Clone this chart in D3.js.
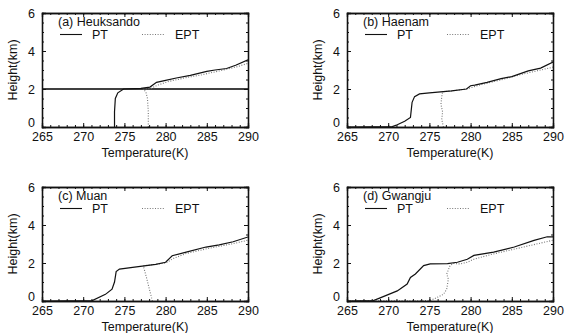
<!DOCTYPE html>
<html lang="en">
<head>
<meta charset="utf-8">
<title>PT / EPT profiles</title>
<script src="https://d3js.org/d3.v7.min.js"></script>
<style>
  body { margin: 0; background: #fff; }
  text { font-family: "Liberation Sans", Arial, sans-serif; fill: #111; }
</style>
</head>
<body>
<script>
// profiles: [temperature (K), height (km)]
var ptHeuksando  = [[273.8,0],[273.8,0.8],[273.9,1.5],[274.2,1.8],[274.9,2.0],[277,2.03],[278.1,2.1],[278.9,2.35],[280,2.45],[281.3,2.58],[283,2.72],[285,2.93],[286,3.0],[287.4,3.08],[288.5,3.25],[290,3.54]];
var eptHeuksando = [[277.9,0],[277.9,0.8],[277.8,1.5],[277.6,1.85],[277.3,2.0],[278.2,2.02],[279,2.2],[280.4,2.4],[282.5,2.6],[284.4,2.75],[286.5,2.95],[288.5,3.15],[290,3.35]];
var ptHaenam  = [[265,0],[270.5,0.02],[271.1,0.12],[272,0.3],[272.7,0.5],[272.8,0.9],[272.9,1.3],[273.2,1.6],[273.8,1.74],[275,1.8],[277.7,1.9],[279.5,2.0],[280,2.17],[280.5,2.2],[282,2.35],[283.7,2.55],[285,2.65],[287,2.95],[288.5,3.1],[290,3.42]];
var eptHaenam = [[276.7,0],[276.5,0.4],[276.6,0.8],[276.4,1.2],[276.5,1.6],[276.6,1.85],[277.7,1.9],[279.5,2.0],[281,2.2],[283.7,2.48],[286,2.75],[288,2.95],[290,3.15]];
var ptMuan  = [[265,0],[271.1,0.02],[272.7,0.35],[273.5,0.62],[273.8,1.0],[274,1.55],[274.4,1.68],[276,1.77],[278.8,1.93],[280,2.04],[280.8,2.38],[282.5,2.57],[284.9,2.84],[286.5,2.95],[288.2,3.12],[290,3.37]];
var eptMuan = [[278.4,0],[278.1,0.5],[277.7,1.2],[277.3,1.85],[278.8,1.93],[280,2.0],[281,2.25],[282.5,2.5],[285,2.75],[288,3.0],[290,3.2]];
var ptGwangju  = [[265,0],[268.2,0.02],[269.1,0.18],[271.1,0.53],[272.3,0.89],[272.7,1.24],[273.3,1.42],[274.3,1.86],[275.1,1.95],[277.2,1.97],[278.4,2.04],[279.6,2.2],[280.4,2.4],[282.8,2.57],[285.3,2.84],[287.7,3.19],[289.3,3.38],[290,3.37]];
var eptGwangju = [[265,0],[275.1,0.02],[275.9,0.18],[276.7,0.35],[277.1,0.62],[277.3,1.15],[277.1,1.42],[277.5,1.86],[277.9,1.98],[278.7,1.95],[279.6,2.04],[280.4,2.2],[282.5,2.45],[285,2.7],[287.5,2.95],[290,3.2]];

var panelLabels = ["(a) Heuksando", "(b) Haenam", "(c) Muan", "(d) Gwangju"];
var ptSeries  = [ptHeuksando, ptHaenam, ptMuan, ptGwangju];
var eptSeries = [eptHeuksando, eptHaenam, eptMuan, eptGwangju];
var refLines  = [[2], [], [], []];   // the flat 2 km line in panel (a)

var xTicks = [265, 270, 275, 280, 285, 290];
var yTicks = [0, 2, 4, 6];

var W = 577, H = 333;
var pw = 206, ph = 114;
var origins = [[42, 13], [347, 13], [42, 187], [347, 187]];

var svg = d3.select("body").append("svg")
    .attr("width", W).attr("height", H);

var x = d3.scaleLinear().domain([265, 290]).range([0, pw]);
var y = d3.scaleLinear().domain([0, 6]).range([ph, 0]);

var line = d3.line()
    .x(function(d) { return x(d[0]); })
    .y(function(d) { return y(d[1]); });

panelLabels.forEach(function(label, i) {
  var g = svg.append("g")
      .attr("transform", "translate(" + origins[i][0] + "," + origins[i][1] + ")");

  var clipId = "clip" + i;
  g.append("clipPath").attr("id", clipId)
    .append("rect").attr("width", pw).attr("height", ph);

  // reference line
  g.selectAll(".ref").data(refLines[i]).enter().append("line")
      .attr("x1", 0).attr("x2", pw)
      .attr("y1", function(d) { return y(d); })
      .attr("y2", function(d) { return y(d); })
      .attr("stroke", "#000").attr("stroke-width", 1.6);

  g.append("path")
      .datum(eptSeries[i])
      .attr("clip-path", "url(#" + clipId + ")")
      .attr("fill", "none")
      .attr("stroke", "#777")
      .attr("stroke-width", 1.1)
      .attr("stroke-dasharray", "1,1.6")
      .attr("d", line);

  g.append("path")
      .datum(ptSeries[i])
      .attr("clip-path", "url(#" + clipId + ")")
      .attr("fill", "none")
      .attr("stroke", "#111")
      .attr("stroke-width", 1.2)
      .attr("d", line);

  // axes, ticks inward on all four sides
  var minorX = d3.range(265, 290.01, 1);
  var minorY = d3.range(0, 6.01, 0.5);

  g.append("g").attr("transform", "translate(0," + ph + ")")
      .call(d3.axisBottom(x).tickValues(minorX).tickSize(-2).tickFormat(""));
  g.append("g")
      .call(d3.axisTop(x).tickValues(minorX).tickSize(-2).tickFormat(""));
  g.append("g")
      .call(d3.axisLeft(y).tickValues(minorY).tickSize(-2).tickFormat(""));
  g.append("g").attr("transform", "translate(" + pw + ",0)")
      .call(d3.axisRight(y).tickValues(minorY).tickSize(-2).tickFormat(""));

  g.append("g").attr("transform", "translate(0," + ph + ")")
      .call(d3.axisBottom(x).tickValues(xTicks).tickSize(-4).tickPadding(5).tickFormat(d3.format("d")));
  g.append("g")
      .call(d3.axisTop(x).tickValues(xTicks).tickSize(-4).tickFormat(""));
  var yl = g.append("g")
      .call(d3.axisLeft(y).tickValues(yTicks).tickSize(-4).tickPadding(9).tickFormat(d3.format("d")));
  g.append("g").attr("transform", "translate(" + pw + ",0)")
      .call(d3.axisRight(y).tickValues(yTicks).tickSize(-4).tickFormat(""));

  g.selectAll(".domain").attr("stroke", "#111").attr("stroke-width", 1.3);
  g.selectAll(".tick line").attr("stroke", "#111");
  g.selectAll(".tick text")
      .style("font-family", "'Liberation Sans', Arial, sans-serif")
      .style("font-size", "12.5px").attr("fill", "#111");
  yl.selectAll(".tick text").attr("dx", "2px")
      .attr("dy", function(d) { return d === 0 ? "-0.05em" : "0.32em"; });

  // axis titles
  g.append("text")
      .attr("x", pw / 2).attr("y", ph + 30)
      .attr("text-anchor", "middle")
      .style("font-size", "12.5px")
      .text("Temperature(K)");
  g.append("text")
      .attr("transform", "translate(-25," + (ph / 2) + ") rotate(-90)")
      .attr("text-anchor", "middle")
      .style("font-size", "12.5px")
      .text("Height(km)");

  // legend
  g.append("text")
      .attr("x", 16).attr("y", 13)
      .style("font-size", "12.5px")
      .text(label);
  g.append("line")
      .attr("x1", 18).attr("x2", 40).attr("y1", 21.5).attr("y2", 21.5)
      .attr("stroke", "#111").attr("stroke-width", 1.1);
  g.append("text")
      .attr("x", 50).attr("y", 26)
      .style("font-size", "12.5px")
      .text("PT");
  g.append("line")
      .attr("x1", 100).attr("x2", 123).attr("y1", 21.5).attr("y2", 21.5)
      .attr("stroke", "#777").attr("stroke-width", 1.1)
      .attr("stroke-dasharray", "1,1.6");
  g.append("text")
      .attr("x", 133).attr("y", 26)
      .style("font-size", "12.5px")
      .text("EPT");
});
</script>
</body>
</html>
